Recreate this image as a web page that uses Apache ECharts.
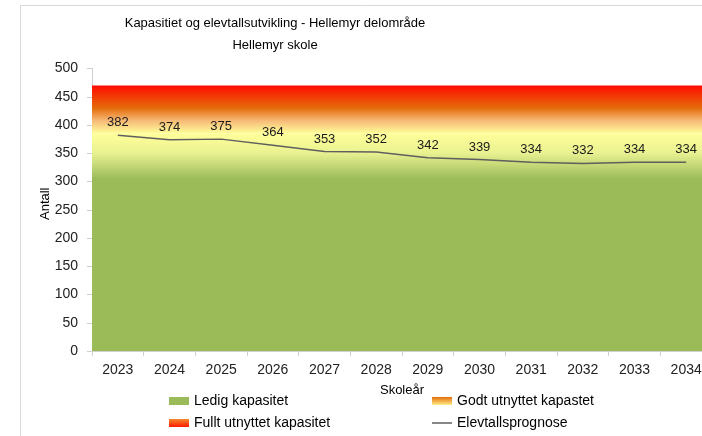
<!DOCTYPE html>
<html>
<head>
<meta charset="utf-8">
<script src="https://cdn.jsdelivr.net/npm/echarts@6/dist/echarts.min.js"></script>
<style>html,body{margin:0;padding:0;background:#fff}#c{width:702px;height:436px}</style>
</head>
<body>
<div id="c"></div>
<script>
var categories = ['2023','2024','2025','2026','2027','2028','2029','2030','2031','2032','2033','2034'];
var elevtall = [382, 374, 375, 364, 353, 352, 342, 339, 334, 332, 334, 334];
// capacity bands (from, to)
var ledigBand = [0, 385];
var godtBand = [385, 430];
var fulltBand = [430, 470];
var yTicks = {min: 0, max: 500, interval: 50};

var FONT = 'Liberation Sans';
function grad(stops){
  return new echarts.graphic.LinearGradient(0,0,0,1, stops.map(function(s){return {offset:s[0], color:s[1]};}));
}
var ledigGrad = grad([[0,'#FFFF99'],[0.09,'#E9F191'],[0.21,'#9BBB59'],[1,'#9BBB59']]);
var godtGrad = grad([[0,'#E46C0A'],[0.5,'#F6BA78'],[1,'#FFFF99']]);
var fulltGrad = grad([[0,'#FF0A00'],[1,'#E46C0A']]);

var chart = echarts.init(document.getElementById('c'), null, {renderer:'canvas'});
chart.setOption({
  animation: false,
  backgroundColor: '#fff',
  textStyle: {fontFamily: FONT},
  title: {
    text: 'Kapasitiet og elevtallsutvikling - Hellemyr delområde\nHellemyr skole',
    left: 270, top: 7, textAlign: 'center',
    textStyle: {fontFamily: FONT, fontSize: 13, fontWeight: 'normal', color: '#000', lineHeight: 22}
  },
  graphic: [{
    type: 'rect', shape: {x: 20.5, y: 5.5, width: 720, height: 460},
    style: {fill: 'none', stroke: '#d9d9d9', lineWidth: 1}, silent: true, z: -1
  }],
  grid: {left: 92, width: 620, top: 68.5, height: 282.5, outerBoundsMode: 'none', containLabel: false},
  xAxis: {
    type: 'category', data: categories, boundaryGap: true,
    name: 'Skoleår', nameLocation: 'middle', nameGap: 33, nameMoveOverlap: false,
    nameTextStyle: {fontFamily: FONT, fontSize: 13, color: '#000'},
    axisLine: {lineStyle: {color: '#d0d0d0'}},
    axisTick: {show: true, alignWithLabel: false, length: 5, lineStyle: {color: '#d0d0d0'}},
    axisLabel: {fontFamily: FONT, fontSize: 14, color: '#222', margin: 12, hideOverlap: false}
  },
  yAxis: {
    type: 'value', min: yTicks.min, max: yTicks.max, interval: yTicks.interval,
    name: 'Antall', nameLocation: 'middle', nameGap: 40, nameRotate: 90, nameMoveOverlap: false,
    nameTextStyle: {fontFamily: FONT, fontSize: 13, color: '#000', padding: [0,0,0,12]},
    axisLine: {show: true, lineStyle: {color: '#d0d0d0'}},
    axisTick: {show: true, length: 5, lineStyle: {color: '#d0d0d0'}},
    splitLine: {show: false},
    axisLabel: {fontFamily: FONT, fontSize: 14, color: '#222', margin: 14}
  },
  legend: [{
    orient: 'vertical', left: 164, top: 388, itemWidth: 20, itemHeight: 8, itemGap: 6,
    textStyle: {fontFamily: FONT, fontSize: 14, color: '#000', lineHeight: 16},
    data: [
      {name: 'Ledig kapasitet', icon: 'rect', itemStyle: {color: '#9BBB59'}},
      {name: 'Fullt utnyttet kapasitet', icon: 'rect', itemStyle: {color: grad([[0,'#F38A2E'],[1,'#FF1A00']])}}
    ]
  },{
    orient: 'vertical', left: 427, top: 388, itemWidth: 20, itemHeight: 8, itemGap: 6,
    textStyle: {fontFamily: FONT, fontSize: 14, color: '#000', lineHeight: 16},
    data: [
      {name: 'Godt utnyttet kapastet', icon: 'rect', itemStyle: {color: grad([[0,'#E46C0A'],[1,'#FFEE88']])}},
      {name: 'Elevtallsprognose', icon: 'path://M0,0 L20,0 L20,1.5 L0,1.5 Z', itemStyle: {color: '#5f5f5f'}}
    ]
  }],
  series: [
    {name: 'Ledig kapasitet', type: 'line', data: [], z: 1, itemStyle: {color: '#9BBB59'},
     markArea: {silent: true, itemStyle: {color: ledigGrad, borderWidth: 0}, data: [[{yAxis: ledigBand[0]}, {yAxis: ledigBand[1]}]]}},
    {name: 'Godt utnyttet kapastet', type: 'line', data: [], z: 1, itemStyle: {color: '#E46C0A'},
     markArea: {silent: true, itemStyle: {color: godtGrad, borderWidth: 0}, data: [[{yAxis: godtBand[0]}, {yAxis: godtBand[1]}]]}},
    {name: 'Fullt utnyttet kapasitet', type: 'line', data: [], z: 1, itemStyle: {color: '#FF1A00'},
     markArea: {silent: true, itemStyle: {color: fulltGrad, borderWidth: 0}, data: [[{yAxis: fulltBand[0]}, {yAxis: fulltBand[1]}]]}},
    {name: 'Elevtallsprognose', type: 'line', data: elevtall, z: 5, showSymbol: true, symbol: 'circle', symbolSize: 0,
     lineStyle: {color: '#5f5f5f', width: 1.5}, itemStyle: {color: '#5f5f5f'},
     label: {show: true, position: 'top', distance: 6, fontFamily: FONT, fontSize: 13, color: '#1a1a1a'}}
  ]
});
</script>
</body>
</html>
